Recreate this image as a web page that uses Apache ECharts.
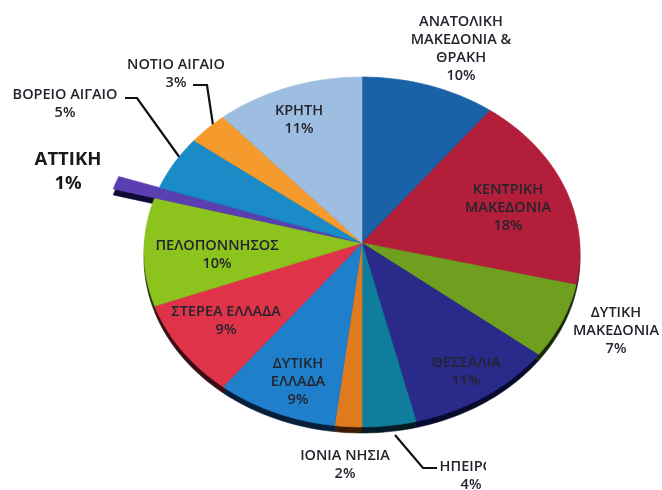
<!DOCTYPE html>
<html>
<head>
<meta charset="utf-8">
<style>
  html, body { margin: 0; padding: 0; background: #fff; }
  #main { width: 662px; height: 490px; filter: blur(0.6px); }
</style>
<script src="https://cdn.jsdelivr.net/npm/echarts@6/dist/echarts.min.js"></script>
</head>
<body>
<div id="main"></div>
<script>
// regions, clockwise from the top of the pie
const regions = ['ΑΝΑΤΟΛΙΚΗ\nΜΑΚΕΔΟΝΙΑ &\nΘΡΑΚΗ', 'ΚΕΝΤΡΙΚΗ\nΜΑΚΕΔΟΝΙΑ', 'ΔΥΤΙΚΗ\nΜΑΚΕΔΟΝΙΑ', 'ΘΕΣΣΑΛΙΑ', 'ΗΠΕΙΡΟΣ', 'ΙΟΝΙΑ ΝΗΣΙΑ', 'ΔΥΤΙΚΗ\nΕΛΛΑΔΑ', 'ΣΤΕΡΕΑ ΕΛΛΑΔΑ', 'ΠΕΛΟΠΟΝΝΗΣΟΣ', 'ΑΤΤΙΚΗ', 'ΒΟΡΕΙΟ ΑΙΓΑΙΟ', 'ΝΟΤΙΟ ΑΙΓΑΙΟ', 'ΚΡΗΤΗ']
const shares = [10, 18, 7, 11, 4, 2, 9, 9, 10, 1, 5, 3, 11]

const colors = ['#1a62a8', '#b31f3a', '#6f9f1f', '#2a2a8a', '#0f7d9b', '#df7a1e', '#1f7fcb', '#de3349', '#8dc31d', '#5a3fb0', '#1a8bc6', '#f59b2d', '#9dbee0']
const rimColors = ['#081430', '#2a0a14', '#1a280a', '#060a2c', '#051a24', '#3a1c06', '#071f38', '#3a0c16', '#202e0a', '#0e0c34', '#081f30', '#3a2009', '#202c3c']
// label centre x, y for each region
const labelPos = [[461, 49], [508, 208], [616, 331], [466, 372], [471, 476], [345, 465], [298, 382], [226, 321], [217, 255], [68, 172], [65, 104], [176, 74], [299, 120]]
const leaders = [
  [[395, 435], [423, 468], [437, 468]],
  [[125, 98], [137, 98], [180, 158]],
  [[193, 85], [207, 85], [213, 125]]
]

// pie is tilted: ellipse, with the slices meeting slightly above its centre
const cx = 362, cy = 252, rx = 218, ry = 175, apexY = 243
const total = shares.reduce((a, b) => a + b, 0)
const cumulative = []
shares.reduce((a, b) => { cumulative.push(a); return a + b }, 0)

function sectorPoints (i, dy) {
  const pull = regions[i] === 'ΑΤΤΙΚΗ' ? 1.2 : 1
  const a0 = cumulative[i] / total * Math.PI * 2
  const a1 = (cumulative[i] + shares[i]) / total * Math.PI * 2
  const pts = [[cx, apexY + dy]]
  const steps = Math.max(4, Math.round(shares[i] * 3))
  for (let s = 0; s <= steps; s++) {
    const a = a0 + (a1 - a0) * s / steps
    const x = cx + rx * Math.sin(a)
    const y = cy - ry * Math.cos(a)
    pts.push([cx + (x - cx) * pull, apexY + (y - apexY) * pull + dy])
  }
  return pts
}

function sectorSeries (dy, palette) {
  return {
    type: 'custom',
    coordinateSystem: 'none',
    silent: true,
    animation: false,
    data: shares,
    renderItem: function (params) {
      const i = params.dataIndex
      return {
        type: 'polygon',
        shape: { points: sectorPoints(i, dy) },
        style: { fill: palette[i], stroke: palette[i], lineWidth: 0.6 }
      }
    }
  }
}

const graphics = []
leaders.forEach(function (pts) {
  graphics.push({
    type: 'polyline',
    shape: { points: pts },
    style: { stroke: '#111', lineWidth: 2.2, fill: null }
  })
})
regions.forEach(function (name, i) {
  const big = name === 'ΑΤΤΙΚΗ'
  graphics.push({
    type: 'text',
    x: labelPos[i][0],
    y: labelPos[i][1],
    z: 10,
    style: {
      text: name + '\n' + shares[i] + '%',
      font: (big ? 'bold 18.5px' : '600 14.5px') + ' "Open Sans", sans-serif',
      lineHeight: big ? 24 : 18,
      align: 'center',
      verticalAlign: 'middle',
      fill: big ? '#1a1a1a' : '#24242e'
    }
  })
  if (name === 'ΗΠΕΙΡΟΣ') {
    // the scan cuts this label off
    graphics.push({ type: 'rect', z: 11, shape: { x: 486, y: 455, width: 50, height: 20 }, style: { fill: '#fff' } })
  }
})

const myChart = echarts.init(document.getElementById('main'), null, { renderer: 'canvas' })
myChart.setOption({
  backgroundColor: '#fff',
  animation: false,
  series: [sectorSeries(6, rimColors), sectorSeries(0, colors)],
  graphic: graphics
})
</script>
</body>
</html>
